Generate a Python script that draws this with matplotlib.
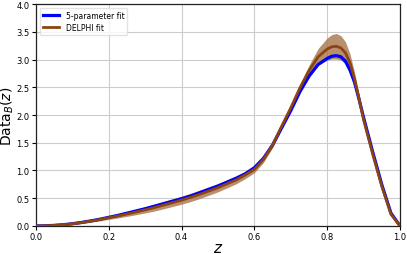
import matplotlib
matplotlib.use("Agg")
import matplotlib.pyplot as plt
import numpy as np

z = [0.0, 0.025, 0.05, 0.075, 0.1, 0.125, 0.15, 0.175, 0.2, 0.225, 0.25, 0.275,
     0.3, 0.325, 0.35, 0.375, 0.4, 0.425, 0.45, 0.475, 0.5, 0.525, 0.55, 0.575,
     0.6, 0.625, 0.65, 0.675, 0.7, 0.725, 0.75, 0.775, 0.8, 0.8125, 0.825, 0.8375,
     0.85, 0.8625, 0.875, 0.8875, 0.9, 0.925, 0.95, 0.975, 1.0]

five_param = [0.0, 0.003, 0.01, 0.022, 0.04, 0.063, 0.09, 0.12, 0.155, 0.19, 0.23, 0.27,
              0.31, 0.355, 0.40, 0.445, 0.49, 0.54, 0.60, 0.66, 0.72, 0.79, 0.86, 0.94,
              1.05, 1.22, 1.46, 1.77, 2.08, 2.42, 2.70, 2.91, 3.02, 3.06, 3.07, 3.05,
              2.97, 2.81, 2.59, 2.28, 1.95, 1.33, 0.74, 0.23, 0.0]

delphi = [0.0, 0.003, 0.01, 0.021, 0.038, 0.06, 0.086, 0.115, 0.148, 0.18, 0.215, 0.252,
          0.29, 0.33, 0.375, 0.42, 0.465, 0.515, 0.57, 0.63, 0.69, 0.76, 0.83, 0.92,
          1.02, 1.20, 1.46, 1.80, 2.13, 2.49, 2.80, 3.05, 3.19, 3.23, 3.24, 3.21,
          3.12, 2.94, 2.65, 2.29, 1.91, 1.29, 0.71, 0.21, 0.0]

delphi_err = [0.0, 0.003, 0.006, 0.01, 0.013, 0.017, 0.02, 0.025, 0.03, 0.036, 0.043, 0.05,
              0.056, 0.062, 0.067, 0.07, 0.073, 0.075, 0.076, 0.076, 0.075, 0.073, 0.07, 0.066,
              0.06, 0.055, 0.05, 0.045, 0.045, 0.06, 0.10, 0.15, 0.20, 0.22, 0.23, 0.22,
              0.20, 0.16, 0.12, 0.08, 0.05, 0.04, 0.03, 0.015, 0.0]

z_a = np.array(z)
d_a = np.array(delphi)
e_a = np.array(delphi_err)

fig = plt.figure(figsize=(4.07, 2.55), dpi=100)
ax = fig.add_axes([0.088, 0.11, 0.895, 0.87])

ax.grid(True, color="#cccccc", linewidth=0.8)
ax.set_axisbelow(True)

ax.fill_between(z_a, d_a - e_a, d_a + e_a, color="#a8744a", alpha=0.8, linewidth=0, zorder=2)
ax.plot(z_a, five_param, color="blue", linewidth=2.3, label="5-parameter fit", zorder=3)
ax.plot(z_a, d_a, color="#8B4513", linewidth=2.0, label="DELPHI fit", zorder=4)

ax.set_xlim(0, 1)
ax.set_ylim(0, 4)
ax.set_xticks([0.0, 0.2, 0.4, 0.6, 0.8, 1.0])
ax.set_yticks([0.0, 0.5, 1.0, 1.5, 2.0, 2.5, 3.0, 3.5, 4.0])
ax.tick_params(labelsize=6, length=3, width=0.8, pad=1.5)

ax.set_xlabel("$z$", fontsize=11, labelpad=-1)
ax.set_ylabel("Data$_B(z)$", fontsize=10, labelpad=0)

for s in ax.spines.values():
    s.set_color("#222222")
    s.set_linewidth(0.9)

leg = ax.legend(loc="upper left", fontsize=5.5, frameon=True, handlelength=2.2,
                borderpad=0.4, labelspacing=0.4, framealpha=0.8)
leg.get_frame().set_edgecolor("#dddddd")

fig.savefig("out.png", dpi=100)
